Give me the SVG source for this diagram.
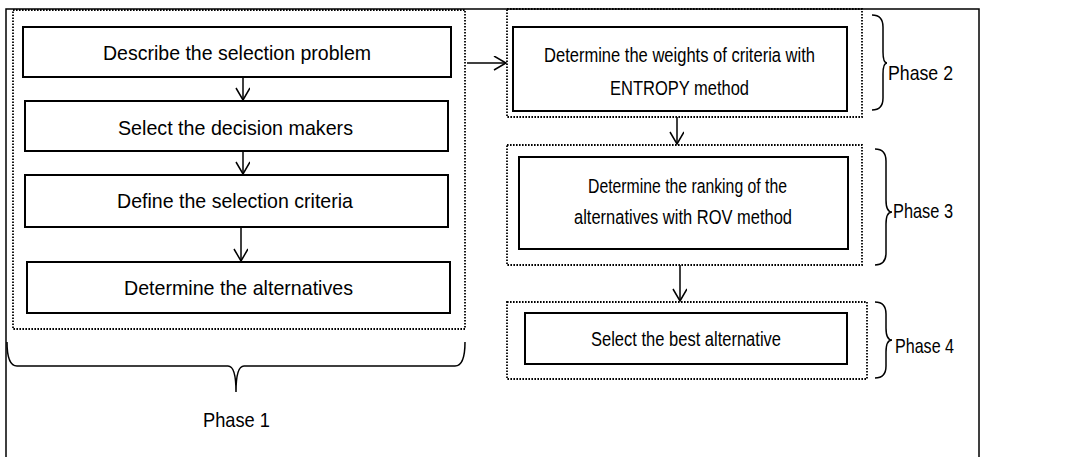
<svg xmlns="http://www.w3.org/2000/svg" width="1083" height="457" viewBox="0 0 1083 457">
<defs>
<style>
.box{fill:#fff;stroke:#000;stroke-width:2}
.dot{fill:none;stroke:#000;stroke-width:1.8;stroke-dasharray:1.6 1.4}
.t{font-family:"Liberation Sans",Arial,sans-serif;font-size:21px;fill:#000;text-anchor:middle}
.s{font-family:"Liberation Sans",Arial,sans-serif;font-size:20.5px;fill:#000;text-anchor:middle}
.p{font-family:"Liberation Sans",Arial,sans-serif;font-size:21px;fill:#000}
.ln{fill:none;stroke:#000;stroke-width:1.5}
.br{fill:none;stroke:#000;stroke-width:1.5}
</style>
<marker id="ah" markerUnits="userSpaceOnUse" markerWidth="16" markerHeight="16" refX="13" refY="7" orient="auto">
<path d="M1,0 L13,7 L1,14" fill="none" stroke="#000" stroke-width="1.5"/>
</marker>
</defs>
<rect x="6" y="9" width="973" height="452" fill="none" stroke="#000" stroke-width="1.5"/>
<g id="phase1">
<rect class="dot" x="13" y="10" width="452" height="319"/>
<path class="br" d="M7,342 Q7,366 17,366 L228,366 Q236,366 236,392 Q236,366 244,366 L455,366 Q465,366 465,342"/>
<text class="p" x="203" y="427" textLength="67" lengthAdjust="spacingAndGlyphs">Phase 1</text>
</g>
<g id="n1">
<rect class="box" x="23" y="27" width="428" height="50"/>
<text class="t" x="237" y="60" textLength="268" lengthAdjust="spacingAndGlyphs">Describe the selection problem</text>
</g>
<g id="n2">
<rect class="box" x="25" y="101" width="423" height="50"/>
<text class="t" x="235.5" y="135" textLength="235" lengthAdjust="spacingAndGlyphs">Select the decision makers</text>
</g>
<g id="n3">
<rect class="box" x="25" y="175" width="423" height="52"/>
<text class="t" x="235" y="208" textLength="236" lengthAdjust="spacingAndGlyphs">Define the selection criteria</text>
</g>
<g id="n4">
<rect class="box" x="27" y="262" width="423" height="51"/>
<text class="t" x="238.5" y="295" textLength="229" lengthAdjust="spacingAndGlyphs">Determine the alternatives</text>
</g>
<g id="phase2">
<rect class="dot" x="507" y="9" width="355" height="108"/>
<rect class="box" x="513" y="27" width="334" height="84"/>
<text class="s" x="679.5" y="62" textLength="271" lengthAdjust="spacingAndGlyphs">Determine the weights of criteria with</text>
<text class="s" x="679.5" y="95" textLength="139" lengthAdjust="spacingAndGlyphs">ENTROPY method</text>
<path class="br" d="M872,15 Q883,15 883,27 L883,52 Q883,63 887,63 Q883,63 883,74 L883,98 Q883,110 872,110"/>
<text class="p" x="888" y="80" textLength="65" lengthAdjust="spacingAndGlyphs">Phase 2</text>
</g>
<g id="phase3">
<rect class="dot" x="507" y="145" width="355" height="120"/>
<rect class="box" x="519" y="157" width="329" height="92"/>
<text class="s" x="687.5" y="193" textLength="199" lengthAdjust="spacingAndGlyphs">Determine the ranking of the</text>
<text class="s" x="683" y="224" textLength="218" lengthAdjust="spacingAndGlyphs">alternatives with ROV method</text>
<path class="br" d="M875,149 Q886,149 886,161 L886,200 Q886,212 892,212 Q886,212 886,224 L886,253 Q886,265 875,265"/>
<text class="p" x="893" y="218" textLength="60" lengthAdjust="spacingAndGlyphs">Phase 3</text>
</g>
<g id="phase4">
<rect class="dot" x="507" y="302" width="360" height="77"/>
<rect class="box" x="525" y="313" width="322" height="51"/>
<text class="s" x="686" y="346" textLength="190" lengthAdjust="spacingAndGlyphs">Select the best alternative</text>
<path class="br" d="M875,302 Q886,302 886,314 L886,328 Q886,340 892,340 Q886,340 886,352 L886,366 Q886,378 875,378"/>
<text class="p" x="895" y="353" textLength="59" lengthAdjust="spacingAndGlyphs">Phase 4</text>
</g>
<g id="connectors">
<line class="ln" x1="243" y1="77" x2="243" y2="100" marker-end="url(#ah)"/>
<line class="ln" x1="243" y1="151" x2="243" y2="174" marker-end="url(#ah)"/>
<line class="ln" x1="241" y1="227" x2="241" y2="261" marker-end="url(#ah)"/>
<line class="ln" x1="467" y1="63" x2="506" y2="63" marker-end="url(#ah)"/>
<line class="ln" x1="677" y1="117" x2="677" y2="144" marker-end="url(#ah)"/>
<line class="ln" x1="680" y1="265" x2="680" y2="301" marker-end="url(#ah)"/>
</g>
</svg>
